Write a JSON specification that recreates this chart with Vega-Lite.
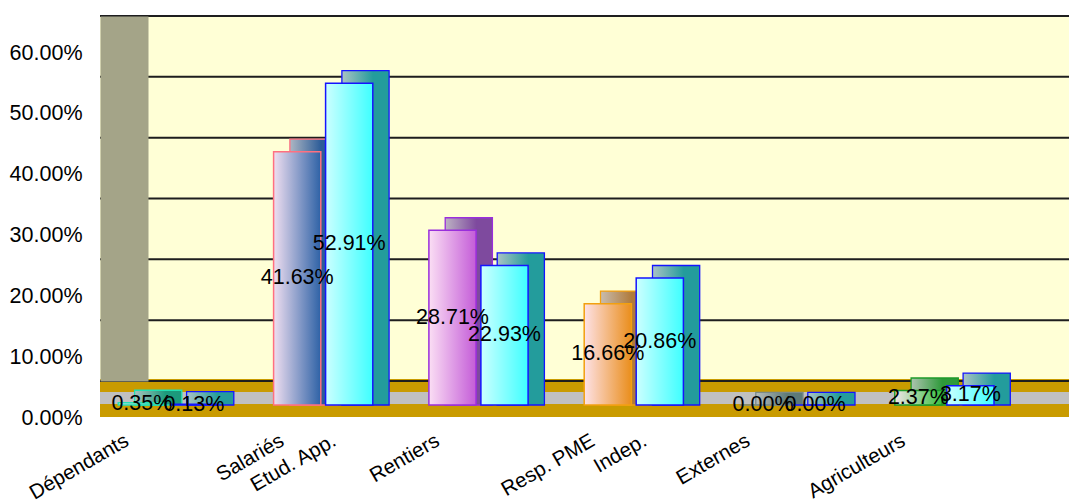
{
  "$schema": "https://vega.github.io/schema/vega-lite/v6.json",
  "width": 969,
  "height": 365,
  "autosize": {"type": "none"},
  "padding": {"left": 100, "top": 16, "right": 0, "bottom": 121},
  "background": "#FFFFFF",
  "config": {"view": {"fill": "#FFFFD6", "stroke": null}, "font": "Liberation Sans"},
  "resolve": {"scale": {"x": "independent"}},
  "data": {"values": [
    {"group": "Dépendants", "series": "A", "value": 0.0035, "label": "Dépendants"},
    {"group": "Dépendants", "series": "B", "value": 0.0013, "label": ""},
    {"group": "Salariés", "series": "A", "value": 0.4163, "label": "Salariés"},
    {"group": "Salariés", "series": "B", "value": 0.5291, "label": "Etud. App."},
    {"group": "Rentiers", "series": "A", "value": 0.2871, "label": "Rentiers"},
    {"group": "Rentiers", "series": "B", "value": 0.2293, "label": ""},
    {"group": "Resp. PME", "series": "A", "value": 0.1666, "label": "Resp. PME"},
    {"group": "Resp. PME", "series": "B", "value": 0.2086, "label": "Indep."},
    {"group": "Externes", "series": "A", "value": 0, "label": "Externes"},
    {"group": "Externes", "series": "B", "value": 0, "label": ""},
    {"group": "Agriculteurs", "series": "A", "value": 0.0237, "label": "Agriculteurs"},
    {"group": "Agriculteurs", "series": "B", "value": 0.0317, "label": ""}
  ]},
  "layer": [
    {
      "data": {"values": [{}]},
      "mark": {"type": "rect", "fill": "#C99B00"},
      "encoding": {
        "y": {"datum": 0.0033, "type": "quantitative",
          "scale": {"domain": [0, 0.6], "nice": false, "zero": false},
          "axis": {"title": null, "format": ".2%", "values": [0, 0.1, 0.2, 0.3, 0.4, 0.5, 0.6],
            "grid": false, "zindex": 1,
            "offset": -24, "domain": true, "domainWidth": 48, "domainColor": "#A4A488",
            "ticks": false, "tickSize": 0, "labelPadding": 42, "labelOffset": 37,
            "labelFontSize": 21.5, "labelFont": "Liberation Sans", "labelColor": "#000000",
            "labelFlush": false, "labelOverlap": false}},
        "y2": {"datum": -0.0181}
      }
    },
    {
      "data": {"values": [{}]},
      "mark": {"type": "rect", "fill": "#C99B00", "x2Offset": -39},
      "encoding": {"y": {"datum": -0.0181, "type": "quantitative"}, "y2": {"datum": -0.0592}}
    },
    {
      "data": {"values": [{}]},
      "mark": {"type": "rect", "fill": "#C0C0C0", "x2Offset": -14},
      "encoding": {"y": {"datum": -0.0181, "type": "quantitative"}, "y2": {"datum": -0.0378}}
    },
    {
      "data": {"values": [{"tick": 0}, {"tick": 0.1}, {"tick": 0.2}, {"tick": 0.3}, {"tick": 0.4}, {"tick": 0.5}, {"tick": 0.6}]},
      "mark": {"type": "rule", "stroke": "#1E1E1E", "strokeWidth": 2},
      "encoding": {"y": {"field": "tick", "type": "quantitative"}}
    },
    {
      "encoding": {
        "x": {"field": "group", "type": "nominal", "axis": null,
          "scale": {"domain": ["Dépendants", "Salariés", "Rentiers", "Resp. PME", "Externes", "Agriculteurs"],
            "range": [6.55, 938.35], "paddingInner": 0, "paddingOuter": 0}},
        "xOffset": {"field": "series", "type": "nominal",
          "scale": {"domain": ["A", "B"], "paddingInner": 0.0923, "paddingOuter": 0.5394}},
        "y": {"field": "value", "type": "quantitative"},
        "y2": {"datum": 0}
      },
      "layer": [
        {
          "mark": {"type": "bar", "yOffset": 11.4, "y2Offset": 24, "strokeWidth": 0},
          "encoding": {
            "color": {"condition": {"test": "datum.series === 'B'", "value": "#239C9C"},
              "field": "group", "type": "nominal", "legend": null,
              "scale": {"domain": ["Dépendants", "Salariés", "Rentiers", "Resp. PME", "Externes", "Agriculteurs"],
                "range": ["#1C9A7C", "#2C5C98", "#7E4A9E", "#B07A3A", "#5E7A78", "#2E9A3A"]}}
          }
        },
        {
          "mark": {"type": "bar", "yOffset": 11.4, "y2Offset": 24, "strokeWidth": 0,
            "fill": {"gradient": "linear", "x1": 0, "y1": 0, "x2": 1, "y2": 0,
              "stops": [{"offset": 0, "color": "rgba(205,205,205,0.8)"}, {"offset": 0.66, "color": "rgba(205,205,205,0)"}, {"offset": 1, "color": "rgba(205,205,205,0)"}]}}
        },
        {
          "mark": {"type": "bar", "filled": false, "yOffset": 11.4, "y2Offset": 24, "strokeWidth": 1.3},
          "encoding": {
            "stroke": {"condition": {"test": "datum.series === 'B'", "value": "#1414FF"},
              "field": "group", "type": "nominal", "legend": null,
              "scale": {"domain": ["Dépendants", "Salariés", "Rentiers", "Resp. PME", "Externes", "Agriculteurs"],
                "range": ["#22E0B4", "#FF7080", "#9A2EDC", "#F2A010", "#7A8A8A", "#1E9A2A"]}}
          }
        }
      ]
    },
    {
      "encoding": {
        "x": {"field": "group", "type": "nominal", "axis": null,
          "scale": {"domain": ["Dépendants", "Salariés", "Rentiers", "Resp. PME", "Externes", "Agriculteurs"],
            "range": [-9.75, 922.05], "paddingInner": 0, "paddingOuter": 0}},
        "xOffset": {"field": "series", "type": "nominal",
          "scale": {"domain": ["A", "B"], "paddingInner": 0.0923, "paddingOuter": 0.5394}},
        "y": {"field": "value", "type": "quantitative"},
        "y2": {"datum": 0}
      },
      "layer": [
        {
          "transform": [{"filter": "datum.series === 'A'"}],
          "mark": {"type": "bar", "yOffset": 24, "y2Offset": 24, "strokeWidth": 0},
          "encoding": {
            "fill": {"field": "group", "type": "nominal", "legend": null,
              "scale": {"domain": ["Dépendants", "Salariés", "Rentiers", "Resp. PME", "Externes", "Agriculteurs"],
                "range": ["#22B890", "#2E62A6", "#C45CD8", "#EA8E1C", "#6A8080", "#38C040"]}}
          }
        },
        {
          "transform": [{"filter": "datum.series === 'A'"}],
          "mark": {"type": "bar", "yOffset": 24, "y2Offset": 24, "strokeWidth": 0,
            "fill": {"gradient": "linear", "x1": 0, "y1": 0, "x2": 1, "y2": 0,
              "stops": [{"offset": 0, "color": "rgba(255,232,246,0.93)"}, {"offset": 1, "color": "rgba(255,232,246,0)"}]}}
        },
        {
          "transform": [{"filter": "datum.series === 'B'"}],
          "mark": {"type": "bar", "yOffset": 24, "y2Offset": 24, "strokeWidth": 0,
            "fill": {"gradient": "linear", "x1": 0, "y1": 0, "x2": 1, "y2": 0,
              "stops": [{"offset": 0, "color": "#CCFFFF"}, {"offset": 1, "color": "#3EFFFF"}]}}
        },
        {
          "mark": {"type": "bar", "filled": false, "yOffset": 24, "y2Offset": 24, "strokeWidth": 1.5},
          "encoding": {
            "stroke": {"condition": {"test": "datum.series === 'B'", "value": "#1414FF"},
              "field": "group", "type": "nominal", "legend": null}
          }
        },
        {
          "mark": {"type": "text", "fontSize": 21.5, "font": "Liberation Sans", "color": "#000000", "yOffset": 24, "baseline": "middle"},
          "encoding": {
            "y": {"field": "value", "type": "quantitative", "stack": "zero", "bandPosition": 0.5},
            "y2": null,
            "text": {"field": "value", "type": "quantitative", "format": ".2%"}
          }
        },
        {
          "mark": {"type": "text", "fontSize": 20.5, "font": "Liberation Sans", "color": "#000000", "angle": 330, "align": "right", "baseline": "middle", "dx": -17, "yOffset": 50},
          "encoding": {
            "y": {"datum": 0, "type": "quantitative"},
            "y2": null,
            "text": {"field": "label", "type": "nominal"}
          }
        }
      ]
    }
  ]
}
